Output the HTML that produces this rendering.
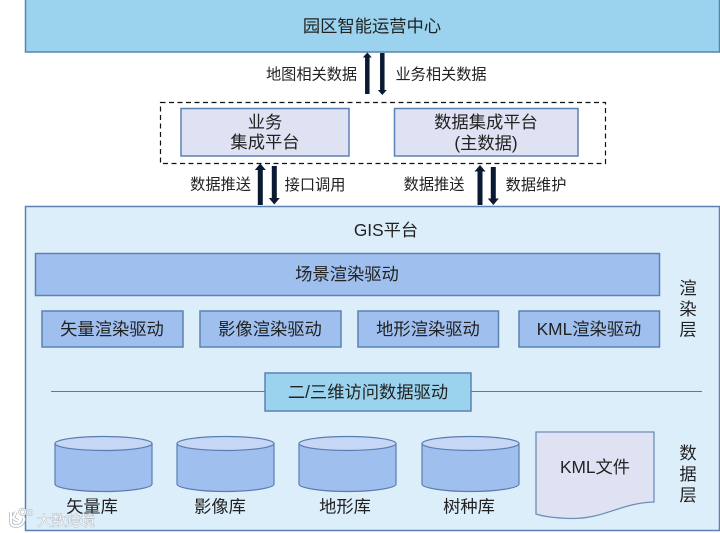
<!DOCTYPE html>
<html><head><meta charset="utf-8">
<style>
html,body{margin:0;padding:0;background:#fff;width:720px;height:533px;overflow:hidden}
svg{display:block;filter:blur(.3px)}
text{font-family:"Liberation Sans","Noto Sans CJK SC",sans-serif;fill:#222;text-anchor:middle}
.s{font-size:15.200px}.m{font-size:17.300px}
.st{stroke:#5b82b2;stroke-width:1.500}
.blue{fill:#9fbfee}
.ar{stroke:#0a1a33;stroke-width:4.500;fill:none}
.ah{fill:#0a1a33}
</style></head><body>
<svg width="720" height="533" viewBox="0 0 720 533" xmlns="http://www.w3.org/2000/svg">
<rect x="25.500" y="-2" width="694" height="54" fill="#9bd3ef" class="st"/>
<text class="m" x="372" y="32">园区智能运营中心</text>
<text class="s" x="311.500" y="79.500">地图相关数据</text>
<text class="s" x="441" y="79.500">业务相关数据</text>
<path class="ar" d="M367.300 56V94M382.300 53V91"/>
<path class="ah" d="M367.300 52.500l4.500 5h-9zM382.300 95l4.500-5h-9z"/>
<rect x="160.500" y="102.500" width="445" height="61" fill="none" stroke="#111" stroke-width="1.200" stroke-dasharray="5 3.500"/>
<rect x="181" y="108.500" width="168" height="47.500" fill="#dfe2f2" class="st"/>
<text class="m" x="265" y="128">业务</text>
<text class="m" x="265" y="148">集成平台</text>
<rect x="394.500" y="108.500" width="183.500" height="47.500" fill="#dfe2f2" class="st"/>
<text class="m" x="486" y="128">数据集成平台</text>
<text class="m" x="486" y="149">(主数据)</text>
<text class="s" x="220.500" y="189.500">数据推送</text>
<text class="s" x="315" y="190">接口调用</text>
<text class="s" x="434" y="189.500">数据推送</text>
<text class="s" x="536" y="190">数据维护</text>
<path class="ar" style="stroke-width:5" d="M260.300 169V205M274.300 166V199M480 170V205M493.300 167V199"/>
<path class="ah" d="M260.300 163.500l5.500 6.500h-11zM274.300 204.500l5.500-6.500h-11zM480 165l5.500 6.500h-11zM493.300 205l5.500-6.500h-11z"/>
<rect x="25.500" y="206.500" width="694" height="324" fill="#dceefa" class="st"/>
<text class="m" x="386" y="236">GIS平台</text>
<rect x="35.500" y="253.500" width="624" height="42" class="blue st"/>
<text class="m" x="347" y="280">场景渲染驱动</text>
<rect x="42" y="311" width="141" height="36" class="blue st"/>
<text class="m" x="112" y="335">矢量渲染驱动</text>
<rect x="200" y="311" width="141" height="36" class="blue st"/>
<text class="m" x="270" y="335">影像渲染驱动</text>
<rect x="358" y="311" width="140.500" height="36" class="blue st"/>
<text class="m" x="428" y="335">地形渲染驱动</text>
<rect x="519" y="311" width="140.500" height="36" class="blue st"/>
<text class="m" x="589" y="335">KML渲染驱动</text>
<text class="m" x="688" y="294">渲</text>
<text class="m" x="688" y="315">染</text>
<text class="m" x="688" y="335.500">层</text>
<path d="M51 391.500H265M471 391.500H702" stroke="#5d7a90" stroke-width="1.100" fill="none"/>
<rect x="265" y="373" width="206" height="38" fill="#9bd3ef" class="st"/>
<text class="m" x="368" y="398">二/三维访问数据驱动</text>
<g stroke="#5a7db0" stroke-width="1.200">
<path class="blue" d="M55 443.500V484C55 488 77 491.500 103.500 491.500S152 488 152 484V443.500z"/>
<ellipse cx="103.500" cy="443.500" rx="48.500" ry="7" fill="#c5d7f5"/>
<path class="blue" d="M177 443.500V484C177 488 199 491.500 225.500 491.500S274 488 274 484V443.500z"/>
<ellipse cx="225.500" cy="443.500" rx="48.500" ry="7" fill="#c5d7f5"/>
<path class="blue" d="M299 443.500V484C299 488 321 491.500 347.500 491.500S396 488 396 484V443.500z"/>
<ellipse cx="347.500" cy="443.500" rx="48.500" ry="7" fill="#c5d7f5"/>
<path class="blue" d="M422 443.500V484C422 488 444 491.500 470.500 491.500S519 488 519 484V443.500z"/>
<ellipse cx="470.500" cy="443.500" rx="48.500" ry="7" fill="#c5d7f5"/>
</g>
<text class="m" x="92" y="512.500">矢量库</text>
<text class="m" x="220" y="512.500">影像库</text>
<text class="m" x="345" y="512.500">地形库</text>
<text class="m" x="469" y="512.500">树种库</text>
<path d="M536 432H654V502C620 503 605 519 570 518.500C555 518 545 517 536 514z" fill="#dfe2f2" stroke="#6d8db8" stroke-width="1.300"/>
<text class="m" x="595" y="473">KML文件</text>
<text class="m" x="688" y="459">数</text>
<text class="m" x="688" y="480">据</text>
<text class="m" x="688" y="501">层</text>
<g fill="none">
<path d="M11 512v10c0 3 2 4 5 4 5 0 8-3 8-8M16 512l-3 6 5 3" stroke="#b4bcc2" stroke-width="3.600"/>
<path d="M11 512v10c0 3 2 4 5 4 5 0 8-3 8-8M16 512l-3 6 5 3" stroke="#fff" stroke-width="2"/>
<circle cx="22.500" cy="512" r="3" stroke="#b4bcc2" stroke-width="2.400"/>
<circle cx="22.500" cy="512" r="3" stroke="#fff" stroke-width="1"/>
<circle cx="30" cy="512.500" r="2.500" stroke="#b4bcc2" stroke-width="2"/>
<circle cx="30" cy="512.500" r="2.500" stroke="#fff" stroke-width=".8"/>
</g>
<text x="66" y="526" style="font-size:14.500px;fill:#f4f7f9;stroke:#a5aeb5;stroke-width:.7;paint-order:stroke">大数跨境</text>
</svg>
</body></html>
